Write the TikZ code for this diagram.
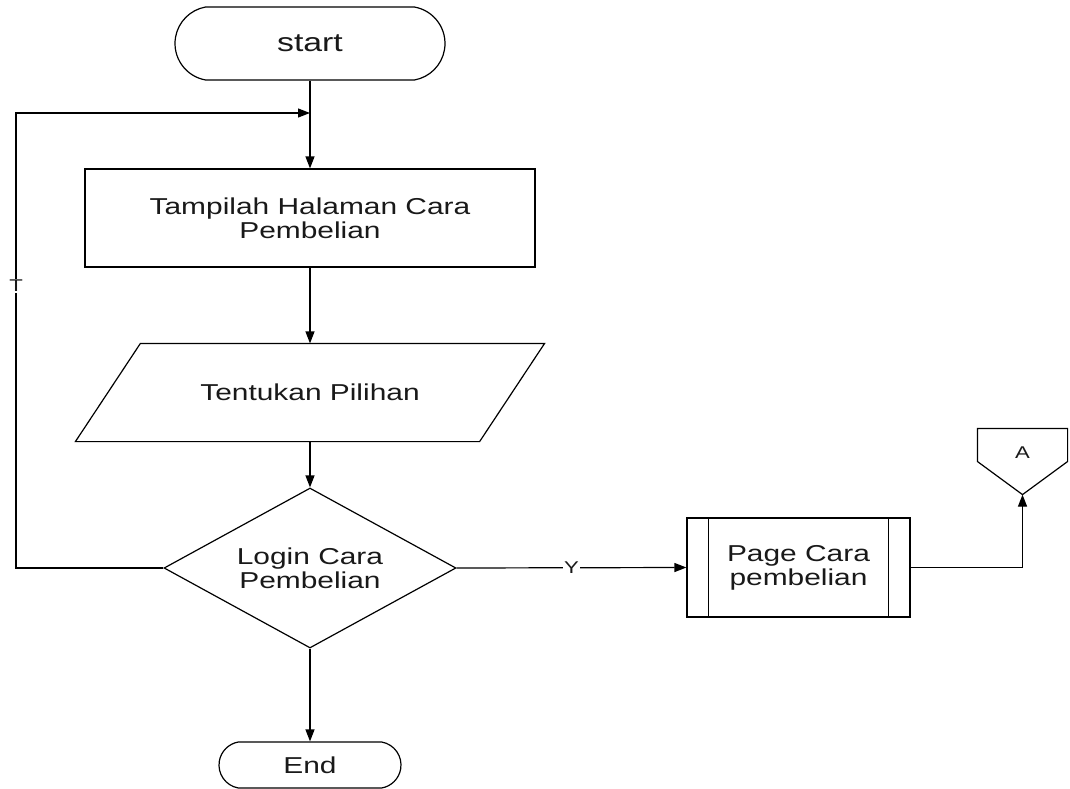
\documentclass[tikz,border=0pt]{standalone}
\usepackage{fontspec}
\setmainfont{Liberation Sans}[FakeStretch=1.3]
\usetikzlibrary{shapes.geometric,shapes.misc,arrows.meta,calc}

\begin{document}
\begin{tikzpicture}[x=1pt,y=-1pt,
  line width=1.2pt,
  every node/.style={text=black!90},
  txt/.style={font=\fontsize{23}{24}\selectfont, align=center},
  terminal/.style={txt, draw, rounded rectangle, rounded rectangle arc length=160, inner sep=0pt},
  process/.style={txt, draw, rectangle, minimum width=450pt, minimum height=98pt, inner sep=0pt},
  ioarea/.style={txt, minimum width=468pt, minimum height=97pt, inner sep=0pt},
  decision/.style={txt, draw, diamond, aspect=1.825, minimum width=292pt, minimum height=160pt, inner sep=0pt},
  subproc/.style={txt, draw, rectangle, minimum width=223pt, minimum height=99pt, inner sep=0pt},
  offpage/.style={minimum width=89pt, minimum height=65pt, inner sep=0pt},
  small/.style={font=\fontsize{17}{18}\selectfont, fill=white, inner sep=1pt},
  flow/.style={-{Triangle[length=12pt,width=9pt]}},
]
\useasboundingbox (0,0) rectangle (1070,789);

% flowchart symbols
\node[terminal, minimum width=270pt, minimum height=73pt, font=\fontsize{26}{28}\selectfont] (start) at (310,43.5) {start};
\node[process] (show) at (310,218) {Tampilah Halaman Cara\\Pembelian};
\node[ioarea] (choose) at (310,392.5) {Tentukan Pilihan};
\draw ($(choose.north west)+(65,0)$) -- (choose.north east) -- ($(choose.south east)+(-65,0)$) -- (choose.south west) -- cycle;
\node[decision] (login) at (310,568) {Login Cara\\Pembelian};
\node[subproc] (page) at (798.5,567.5) {Page Cara\\pembelian};
\draw ([xshift=22pt]page.north west) -- ([xshift=22pt]page.south west);
\draw ([xshift=-22pt]page.north east) -- ([xshift=-22pt]page.south east);
\node[offpage] (conA) at (1022.5,461.5) {};
\draw (conA.north west) -- (conA.north east) -- (conA.east) -- (conA.south) -- (conA.west) -- cycle;
\node[font=\fontsize{17}{18}\selectfont] (conAtxt) at ([yshift=9pt]conA.center) {A};
\node[terminal, minimum width=182pt, minimum height=46pt, font=\fontsize{23}{24}\selectfont] (end) at (310,765) {End};

% connectors
\coordinate (merge) at (310,113);
\coordinate (loopdown) at (16,568);
\coordinate (loopup) at (16,113);
\draw[flow] (start.south) -- (show.north);
\draw[flow] (show.south) -- (choose.north);
\draw[flow] (choose.south) -- (login.north);
\draw[flow] (login.south) -- (end.north);
\draw[flow] (login.west) -- (loopdown) -- node[small, pos=0.62] (tlabel) {T} (loopup) -- (merge);
\draw[flow] (login.east) -- node[small] (ylabel) {Y} (page.west);
\draw[flow] (page.east) -| (conA.south);
\end{tikzpicture}
\end{document}
